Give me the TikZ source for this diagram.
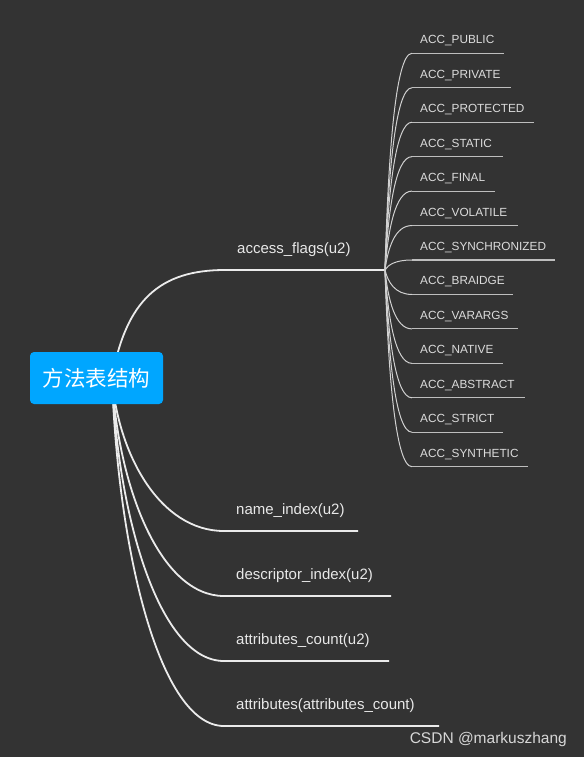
\documentclass[tikz,border=0pt]{standalone}
\usepackage{fontspec}
\setmainfont{Liberation Sans}
\newfontfamily\cjkfont{Noto Sans CJK SC}
\definecolor{bgc}{RGB}{51,51,51}
\definecolor{rootc}{RGB}{0,166,255}
\definecolor{maintxt}{RGB}{232,232,232}
\definecolor{mainln}{RGB}{235,235,235}
\definecolor{leaftxt}{RGB}{220,220,220}
\definecolor{leafln}{RGB}{190,190,190}
\definecolor{wmc}{RGB}{215,215,215}
\tikzset{
  rootbox/.style={fill=rootc, rounded corners=4pt, minimum width=133pt, minimum height=52pt, inner sep=0pt, text=white, font=\cjkfont\fontsize{21.5}{24}\selectfont},
  maintext/.style={anchor=base west, inner sep=0pt, text=maintxt, font=\fontsize{15}{18}\selectfont},
  leaftext/.style={anchor=base west, inner sep=0pt, text=leaftxt, font=\fontsize{11.8}{14}\selectfont},
  mainline/.style={draw=mainln, line width=1.8pt},
  leafline/.style={draw=leafln, line width=1.1pt},
  leafcurve/.style={draw=leafln!70!white, line width=1pt},
}
\begin{document}
\begin{tikzpicture}[x=1pt,y=-1pt]
\fill[bgc] (0,0) rectangle (584,757);
\useasboundingbox (0,0) rectangle (584,757);

% root hub (hidden behind node)
\coordinate (hub) at (112,378);

% main branches
\coordinate (afS) at (225,270);
\coordinate (fan) at (385,270);
\node[maintext] (af) at (237,253) {access\_flags(u2)};
\draw[mainline] (hub) .. controls (126,300) and (160,270) .. (afS) -- (fan);

\foreach \nm/\txt/\yy/\xe in {
  ni/name\_index(u2)/531/358,
  di/descriptor\_index(u2)/596/391,
  ac/attributes\_count(u2)/661/389,
  at/attributes(attributes\_count)/726/439}{
  \coordinate (\nm S) at (224,\yy);
  \coordinate (\nm E) at (\xe,\yy);
  \node[maintext] (\nm) at (236,\yy-17) {\txt};
  \draw[mainline] (hub) .. controls (118,{(378+\yy)/2}) and (160,\yy) .. (\nm S) -- (\nm E);
}

% leaves
\foreach \i/\txt/\xe in {
  0/ACC\_PUBLIC/504,
  1/ACC\_PRIVATE/511,
  2/ACC\_PROTECTED/534,
  3/ACC\_STATIC/503,
  4/ACC\_FINAL/495,
  5/ACC\_VOLATILE/518,
  6/ACC\_SYNCHRONIZED/555,
  7/ACC\_BRAIDGE/513,
  8/ACC\_VARARGS/518,
  9/ACC\_NATIVE/503,
  10/ACC\_ABSTRACT/525,
  11/ACC\_STRICT/503,
  12/ACC\_SYNTHETIC/528}{
  \pgfmathsetmacro{\yy}{53.3+34.45*\i}
  \coordinate (l\i S) at (412,\yy);
  \coordinate (l\i E) at (\xe,\yy);
  \node[leaftext] (l\i) at (420,\yy-9.5) {\txt};
  \draw[leafcurve] (fan) .. controls (388,{(270+\yy)/2}) and (395,\yy) .. (l\i S);
  \draw[leafline] (l\i S) -- (l\i E);
}

% root node
\node[rootbox] (root) at (96.5,378) {方法表结构};

% watermark
\node[anchor=base east, inner sep=0pt, text=wmc, font=\fontsize{15.5}{18}\selectfont] (wm) at (567,743) {CSDN @markuszhang};
\end{tikzpicture}
\end{document}
